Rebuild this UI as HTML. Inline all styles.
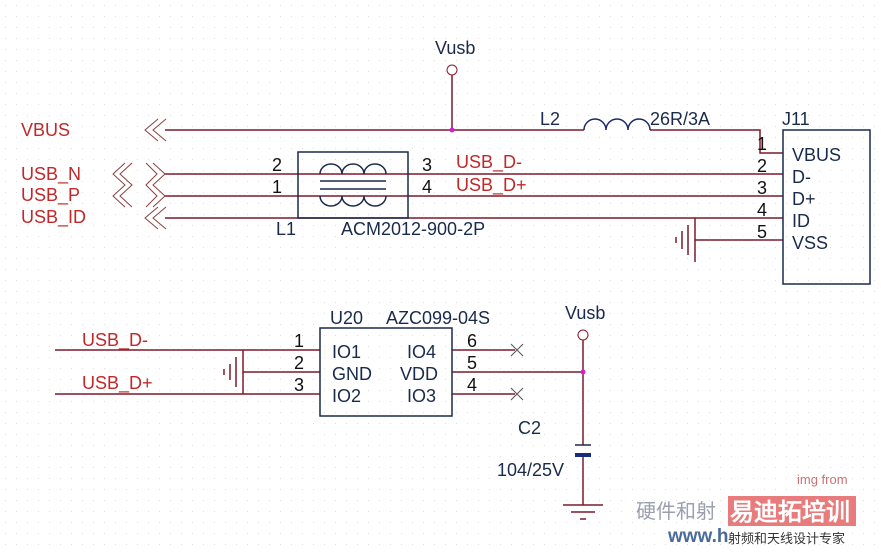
<!DOCTYPE html>
<html><head><meta charset="utf-8"><style>
body{margin:0;background:#fff;}
svg text{font-family:"Liberation Sans",Arial,sans-serif;}
</style></head><body>
<svg width="881" height="547" viewBox="0 0 881 547" xmlns="http://www.w3.org/2000/svg">
<defs><pattern id="g" width="11" height="11" patternUnits="userSpaceOnUse"><rect x="5" y="5" width="1" height="1" fill="#ddd"/></pattern></defs>
<rect width="881" height="547" fill="#fff"/>
<rect width="881" height="547" fill="url(#g)"/>
<g fill="none" stroke="#7b1a2a" stroke-width="1.5">
<line x1="165" y1="130" x2="584" y2="130"/>
<path d="M584,130 a11,11 0 0 1 22,0 a11,11 0 0 1 22,0 a11,11 0 0 1 22,0" stroke="#1a2a6b"/>
<polyline points="650,130 760,130 760,153 783,153"/>
<line x1="452" y1="75" x2="452" y2="130"/>
<line x1="165" y1="174" x2="783" y2="174"/>
<line x1="165" y1="196" x2="783" y2="196"/>
<line x1="165" y1="218" x2="783" y2="218"/>
<line x1="695" y1="240" x2="783" y2="240"/>
<line x1="695" y1="218" x2="695" y2="262"/>
<line x1="688" y1="225" x2="688" y2="255"/>
<line x1="682" y1="231" x2="682" y2="249"/>
<line x1="676" y1="237" x2="676" y2="243"/>
<g stroke="#8b4040" stroke-width="1">
<polyline points="158,119 145,130 158,141"/>
<polyline points="166,119 153,130 166,141"/>
<polyline points="158,207 145,218 158,229"/>
<polyline points="166,207 153,218 166,229"/>
<polyline points="146,163 157,174 146,185 157,196 146,207"/>
<polyline points="153,163 165,174 153,185 165,196 153,207"/>
<polyline points="125,163 113,174 125,185 113,196 125,207"/>
<polyline points="132,163 120,174 132,185 120,196 132,207"/>
</g>
<line x1="55" y1="350" x2="320" y2="350"/>
<line x1="55" y1="394" x2="320" y2="394"/>
<line x1="243" y1="372" x2="320" y2="372"/>
<line x1="243" y1="350" x2="243" y2="394"/>
<line x1="236" y1="357" x2="236" y2="387"/>
<line x1="230" y1="364" x2="230" y2="380"/>
<line x1="224" y1="369" x2="224" y2="375"/>
<line x1="452" y1="350" x2="515" y2="350"/>
<line x1="452" y1="394" x2="515" y2="394"/>
<line x1="452" y1="372" x2="583" y2="372"/>
<line x1="583" y1="340" x2="583" y2="445"/>
<line x1="583" y1="455" x2="583" y2="505"/>
<line x1="563" y1="505" x2="603" y2="505"/>
<line x1="571" y1="512" x2="595" y2="512"/>
<line x1="580" y1="519" x2="586" y2="519"/>
</g>
<g stroke="#555" stroke-width="1"><path d="M511,344 l12,12 M523,344 l-12,12 M511,388 l12,12 M523,388 l-12,12"/></g>
<g fill="none" stroke="#1a2a4b" stroke-width="1.5">
<rect x="298" y="152" width="110" height="66"/>
<rect x="783" y="130" width="87" height="154"/>
<rect x="320" y="328" width="132" height="88"/>
<path d="M320,174 a11,10 0 0 1 22,0 a11,10 0 0 1 22,0 a11,10 0 0 1 22,0"/>
<path d="M320,196 a11,10 0 0 0 22,0 a11,10 0 0 0 22,0 a11,10 0 0 0 22,0"/>
<line x1="320" y1="181" x2="386" y2="181"/><line x1="320" y1="189" x2="386" y2="189"/>
<line x1="575" y1="445" x2="591" y2="445"/>
<line x1="575" y1="455" x2="591" y2="455" stroke-width="4" stroke="#1a2a7b"/>
</g>
<g fill="none" stroke="#8b1a2a"><circle cx="452" cy="70" r="5"/><circle cx="583" cy="335" r="5"/></g>
<circle cx="452" cy="130" r="2.5" fill="#d020d0"/><circle cx="583" cy="372" r="2.5" fill="#d020d0"/>
<g fill="#c0282a" font-size="18">
<text x="21" y="136">VBUS</text><text x="21" y="180">USB_N</text><text x="21" y="201">USB_P</text><text x="21" y="223">USB_ID</text>
<text x="456" y="168">USB_D-</text><text x="456" y="191">USB_D+</text>
<text x="82" y="346">USB_D-</text><text x="82" y="389">USB_D+</text>
</g>
<g fill="#1a2a4b" font-size="18">
<text x="435" y="54">Vusb</text><text x="540" y="125">L2</text><text x="650" y="125">26R/3A</text><text x="782" y="125">J11</text>
<text x="792" y="161">VBUS</text><text x="792" y="183">D-</text><text x="792" y="205">D+</text><text x="792" y="227">ID</text><text x="792" y="249">VSS</text>
<text x="276" y="235">L1</text><text x="341" y="235">ACM2012-900-2P</text>
<text x="330" y="324">U20</text><text x="386" y="324">AZC099-04S</text><text x="565" y="319">Vusb</text>
<text x="332" y="358">IO1</text><text x="332" y="380">GND</text><text x="332" y="402">IO2</text>
<text x="407" y="358">IO4</text><text x="400" y="380">VDD</text><text x="407" y="402">IO3</text>
<text x="518" y="434">C2</text><text x="497" y="476">104/25V</text>
</g>
<g fill="#111" font-size="18">
<text x="272" y="171">2</text><text x="272" y="193">1</text><text x="422" y="171">3</text><text x="422" y="193">4</text>
<text x="757" y="150">1</text><text x="757" y="172">2</text><text x="757" y="194">3</text><text x="757" y="216">4</text><text x="757" y="238">5</text>
<text x="294" y="347">1</text><text x="294" y="369">2</text><text x="294" y="391">3</text>
<text x="467" y="347">6</text><text x="467" y="369">5</text><text x="467" y="391">4</text>
</g>
<text x="797" y="484" font-size="13" fill="#d07070">img from</text>
<text x="636" y="518" font-size="20" fill="#9aa0b0" font-family="Noto Serif CJK SC,serif">硬件和射</text>
<rect x="728" y="496" width="128" height="30" fill="#e05050" opacity="0.75"/>
<text x="730" y="520" font-size="24" fill="#fff" font-weight="bold" font-family="Noto Sans CJK SC,sans-serif">易迪拓培训</text>
<text x="668" y="542" font-size="19" fill="#4a6a9a" font-weight="bold">www.h</text>
<text x="728" y="543" font-size="13" fill="#333" font-family="Noto Sans CJK SC,sans-serif">射频和天线设计专家</text>
</svg>
</body></html>
